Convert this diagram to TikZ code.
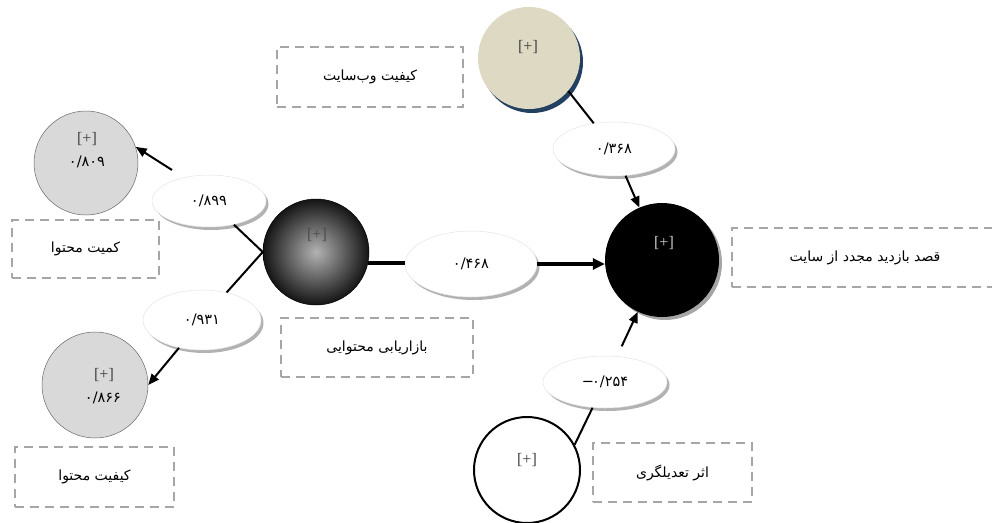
\documentclass[tikz,border=0pt]{standalone}
\usepackage{fontspec}
\setmainfont{Liberation Serif}
\newfontfamily\pfont[Script=Arabic]{DejaVu Sans}
\TeXXeTstate=1
\usetikzlibrary{shapes.geometric,arrows.meta,shadows}
\definecolor{beige}{RGB}{221,217,195}
\definecolor{navyshadow}{RGB}{36,64,97}
\definecolor{circgray}{RGB}{217,217,217}
\definecolor{boxgray}{RGB}{166,166,166}
\begin{document}
\begin{tikzpicture}[x=1pt,y=-1pt,
 conn/.style={line width=2pt},
 arr/.style={line width=2pt,-{Triangle[length=11pt,width=9pt]}},
 lbl/.style={ellipse,fill=white,draw=gray!20,line width=0.5pt,inner sep=0pt,font=\pfont\fontsize{14.5}{16}\selectfont,drop shadow={shadow xshift=2.5pt,shadow yshift=-3pt,fill=gray!60,opacity=1}},
 dbox/.style={rectangle,draw=boxgray,line width=2pt,dash pattern=on 9pt off 6pt,inner sep=0pt,font=\pfont\fontsize{14}{16}\selectfont},
 plus/.style={font=\fontsize{16}{18}\selectfont,inner sep=0pt},
 val/.style={font=\pfont\fontsize{14.5}{16}\selectfont,inner sep=0pt},
 gcirc/.style={circle,fill=circgray,draw=gray!80!black,line width=0.5pt,inner sep=0pt},
]
\path[use as bounding box,clip] (0,0) rectangle (992,522);

% website quality
\node[circle,fill=beige,minimum size=102pt,inner sep=0pt,drop shadow={shadow xshift=3pt,shadow yshift=-4pt,fill=navyshadow,opacity=1}] (web) at (529,58) {};
\node[plus,text=black!75] (webp) at (528,47) {[+]};
\node[dbox,minimum width=186pt,minimum height=60pt] (bweb) at (370,77) {\beginR کیفیت وب‌سایت\endR};
\node[lbl,minimum width=122pt,minimum height=54pt] (e368) at (614,149) {۰/۳۶۸};

% revisit intention
\node[circle,fill=black,minimum size=114pt,inner sep=0pt,drop shadow={shadow xshift=3pt,shadow yshift=-3pt,fill=gray!70,opacity=1}] (rev) at (662,260) {};
\node[plus,text=gray!40] (revp) at (664,243) {[+]};
\node[dbox,minimum width=266pt,minimum height=59pt] (brev) at (865,257.5) {\beginR قصد بازدید مجدد از سایت\endR};

% content marketing
\node[circle,inner color=gray!60,outer color=black!92,draw=black,line width=0.5pt,minimum size=106pt,inner sep=0pt] (grad) at (316,252) {};
\node[plus,text=black!70] (gradp) at (317,235) {[+]};
\node[dbox,minimum width=192pt,minimum height=59pt] (bgrad) at (377,347.5) {\beginR بازاریابی محتوایی\endR};
\node[lbl,minimum width=132pt,minimum height=66pt] (e468) at (471,264) {۰/۴۶۸};

% content quantity
\node[gcirc,minimum size=104pt] (q1) at (86,163) {};
\node[plus,text=black!75] (q1p) at (87,139) {[+]};
\node[val] (q1v) at (87,162) {۰/۸۰۹};
\node[dbox,minimum width=147pt,minimum height=58pt] (bq1) at (85.5,249) {\beginR کمیت محتوا\endR};
\node[lbl,minimum width=114pt,minimum height=52pt] (e899) at (209,201) {۰/۸۹۹};

% content quality
\node[gcirc,minimum size=106pt] (q2) at (95,385) {};
\node[plus,text=black!75] (q2p) at (104,375) {[+]};
\node[val] (q2v) at (103,398) {۰/۸۶۶};
\node[dbox,minimum width=159pt,minimum height=60pt] (bq2) at (94.5,477) {\beginR کیفیت محتوا\endR};
\node[lbl,minimum width=118pt,minimum height=60pt] (e931) at (202,320) {۰/۹۳۱};

% moderating effect
\node[circle,draw=black,line width=2pt,fill=white,minimum size=106pt,inner sep=0pt] (mod) at (527,470) {};
\node[plus,text=black!75] (modp) at (527,460) {[+]};
\node[dbox,minimum width=159pt,minimum height=59pt] (bmod) at (672.5,472.5) {\beginR اثر تعدیلگری\endR};
\node[lbl,minimum width=124pt,minimum height=52pt] (e254) at (605,382) {−\kern-2pt۰/۲۵۴};

% connectors
\draw[conn] (web.-40) -- (e368);
\draw[arr] (e368) -- (rev);
\draw[line width=4.5pt] (grad.-12) -- (grad.-12 -| e468.west);
\draw[line width=4pt,-{Triangle[length=12pt,width=11pt]}] (e468.east) -- (e468.east -| rev.west);
\draw[conn] (grad.west) -- (e899);
\draw[conn] (grad.west) -- (e931);
\coordinate (s899) at (172,170);
\draw[arr] (s899) -- (q1.18);
\draw[arr] (e931) -- (q2.east);
\draw[conn] (mod.28) -- (e254);
\draw[arr,shorten <=11pt] (e254) -- (rev);
\end{tikzpicture}
\end{document}
